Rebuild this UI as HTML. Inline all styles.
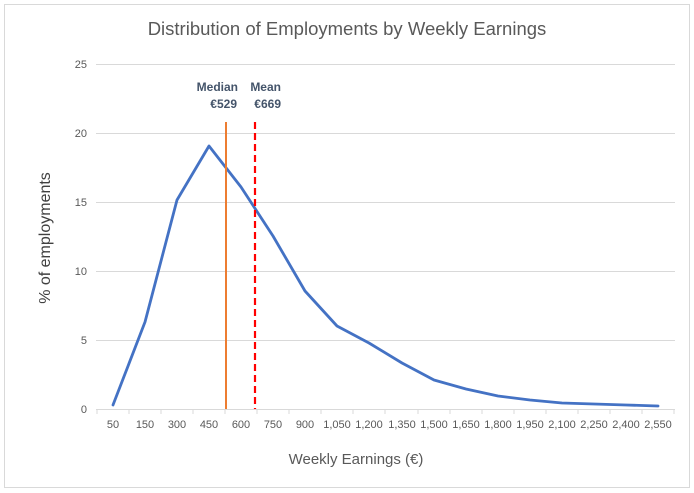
<!DOCTYPE html>
<html><head><meta charset="utf-8"><style>
body{margin:0;background:#fff}
svg{display:block;font-family:"Liberation Sans",sans-serif}
</style></head><body>
<svg width="694" height="493" viewBox="0 0 694 493" xmlns="http://www.w3.org/2000/svg">
<rect x="4.5" y="4.5" width="685" height="483" fill="#fff" stroke="#d9d9d9"/>
<text x="347" y="35" text-anchor="middle" font-size="18.5" fill="#595959">Distribution of Employments by Weekly Earnings</text>
<g stroke="#d9d9d9" stroke-width="1">
<line x1="96" y1="64.5" x2="675" y2="64.5"/>
<line x1="96" y1="133.5" x2="675" y2="133.5"/>
<line x1="96" y1="202.5" x2="675" y2="202.5"/>
<line x1="96" y1="271.5" x2="675" y2="271.5"/>
<line x1="96" y1="340.5" x2="675" y2="340.5"/>
<line x1="96" y1="409.5" x2="675" y2="409.5"/>
</g>
<g font-size="11" fill="#595959" text-anchor="end">
<text x="87" y="68">25</text><text x="87" y="137">20</text><text x="87" y="206">15</text>
<text x="87" y="275">10</text><text x="87" y="344">5</text><text x="87" y="413">0</text>
</g>
<g font-size="11" fill="#595959" text-anchor="middle">
<text x="113" y="428">50</text><text x="145" y="428">150</text><text x="177" y="428">300</text>
<text x="209" y="428">450</text><text x="241" y="428">600</text><text x="273" y="428">750</text>
<text x="305" y="428">900</text><text x="337" y="428">1,050</text><text x="369" y="428">1,200</text>
<text x="402" y="428">1,350</text><text x="434" y="428">1,500</text><text x="466" y="428">1,650</text>
<text x="498" y="428">1,800</text><text x="530" y="428">1,950</text><text x="562" y="428">2,100</text>
<text x="594" y="428">2,250</text><text x="626" y="428">2,400</text><text x="658" y="428">2,550</text>
</g>
<g stroke="#d9d9d9">
<line x1="97" y1="409" x2="97" y2="414"/><line x1="129" y1="409" x2="129" y2="414"/><line x1="161" y1="409" x2="161" y2="414"/>
<line x1="193" y1="409" x2="193" y2="414"/><line x1="225" y1="409" x2="225" y2="414"/><line x1="257" y1="409" x2="257" y2="414"/>
<line x1="289" y1="409" x2="289" y2="414"/><line x1="321" y1="409" x2="321" y2="414"/><line x1="353" y1="409" x2="353" y2="414"/>
<line x1="385" y1="409" x2="385" y2="414"/><line x1="418" y1="409" x2="418" y2="414"/><line x1="450" y1="409" x2="450" y2="414"/>
<line x1="482" y1="409" x2="482" y2="414"/><line x1="514" y1="409" x2="514" y2="414"/><line x1="546" y1="409" x2="546" y2="414"/>
<line x1="578" y1="409" x2="578" y2="414"/><line x1="610" y1="409" x2="610" y2="414"/><line x1="642" y1="409" x2="642" y2="414"/>
<line x1="674" y1="409" x2="674" y2="414"/>
</g>
<polyline fill="none" stroke="#4472c4" stroke-width="2.8" stroke-linejoin="round" stroke-linecap="round"
points="113,405 145,322 177,200 209,146 241,187 273,236 305,291 337,326 369,343 402,363 434,380 466,389 498,396 530,400 562,403 594,404 626,405 658,406"/>
<line x1="226" y1="122" x2="226" y2="409" stroke="#ed7d31" stroke-width="2"/>
<line x1="255" y1="122" x2="255" y2="409" stroke="#ff0000" stroke-width="2.2" stroke-dasharray="7,4"/>
<g font-size="12" font-weight="bold" fill="#44546a">
<text x="238" y="91" text-anchor="end">Median</text>
<text x="237" y="108" text-anchor="end">€529</text>
<text x="281" y="91" text-anchor="end">Mean</text>
<text x="281" y="108" text-anchor="end">€669</text>
</g>
<text x="356" y="464" text-anchor="middle" font-size="15" fill="#595959">Weekly Earnings (€)</text>
<text transform="translate(50,238) rotate(-90)" text-anchor="middle" font-size="16" fill="#404040">% of employments</text>
</svg>
</body></html>
